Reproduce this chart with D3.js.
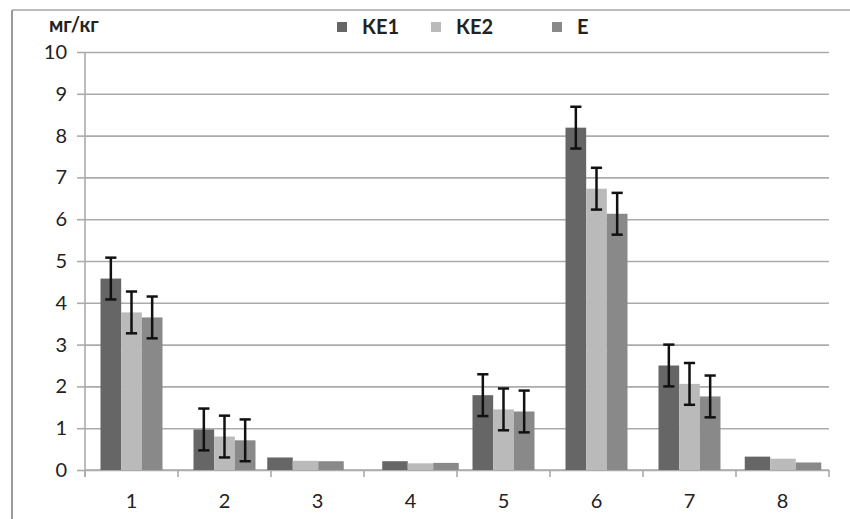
<!DOCTYPE html>
<html>
<head>
<meta charset="utf-8">
<script src="https://cdn.jsdelivr.net/npm/d3@7"></script>
<style>
  body { margin: 0; background: #fff; }
  text { font-family: Lato, "Open Sans", sans-serif; fill: #222; }
</style>
</head>
<body>
<div id="chart"></div>
<script>
var categories = ["1", "2", "3", "4", "5", "6", "7", "8"];
var seriesNames = ["КЕ1", "КЕ2", "Е"];
var ke1 = [4.58, 0.97, 0.30, 0.21, 1.79, 8.19, 2.50, 0.32];
var ke2 = [3.77, 0.80, 0.22, 0.16, 1.45, 6.73, 2.06, 0.27];
var e = [3.65, 0.71, 0.21, 0.17, 1.40, 6.13, 1.76, 0.18];
// error half-widths, null where no error bar is drawn
var errKe1 = [0.5, 0.5, null, null, 0.5, 0.5, 0.5, null];
var errKe2 = [0.5, 0.5, null, null, 0.5, 0.5, 0.5, null];
var errE = [0.5, 0.5, null, null, 0.5, 0.5, 0.5, null];
var yTicks = [0, 1, 2, 3, 4, 5, 6, 7, 8, 9, 10];
var unitLabel = "мг/кг";

var colors = ["#666666", "#bababa", "#898989"];
var values = [ke1, ke2, e];
var errors = [errKe1, errKe2, errE];

var width = 850, height = 519;
var margin = {top: 52, right: 21, bottom: 49, left: 85};

var svg = d3.select("#chart").append("svg")
  .attr("width", width)
  .attr("height", height);

// outer frame
svg.append("line").attr("x1", 12).attr("x2", width).attr("y1", 10).attr("y2", 10)
  .attr("stroke", "#bdbdbd").attr("stroke-width", 2);
svg.append("line").attr("x1", 12).attr("x2", 12).attr("y1", 10).attr("y2", height)
  .attr("stroke", "#9a9a9a").attr("stroke-width", 2);

var x = d3.scaleBand()
  .domain(categories)
  .range([margin.left, width - margin.right])
  .paddingInner(0).paddingOuter(0);

var xSub = d3.scaleBand()
  .domain(d3.range(seriesNames.length))
  .range([0, x.bandwidth()])
  .paddingInner(0).paddingOuter(0.75);

// groups without error bars are drawn with wider bars in the original, some off-centre
var wideShift = {"3": -12, "4": 10, "8": 0.5};
var wideBar = 25.5;

var y = d3.scaleLinear()
  .domain([0, 10])
  .range([height - margin.bottom, margin.top]);

// gridlines + y axis
var yAxis = d3.axisLeft(y)
  .tickValues(yTicks)
  .tickSize(-(width - margin.right - margin.left))
  .tickPadding(18);

var gy = svg.append("g")
  .attr("transform", "translate(" + margin.left + ",0)")
  .call(yAxis);
gy.select(".domain").remove();
gy.selectAll(".tick line").attr("stroke", "#ababab").attr("stroke-width", 1.6);
gy.selectAll(".tick").append("line")
  .attr("x1", -8).attr("x2", 0)
  .attr("stroke", "#ababab").attr("stroke-width", 1.6);
gy.selectAll(".tick text")
  .attr("font-size", 20)
  .style("font-family", "Lato, sans-serif")
  .attr("fill", "#222");

// y axis line
svg.append("line")
  .attr("x1", margin.left).attr("x2", margin.left)
  .attr("y1", y(10)).attr("y2", y(0) + 7)
  .attr("stroke", "#ababab").attr("stroke-width", 1.6);

// x axis
var xTickPos = categories.map(function(c) { return x(c); }).concat([x.range()[1]]);
svg.append("line")
  .attr("x1", margin.left).attr("x2", x.range()[1])
  .attr("y1", y(0)).attr("y2", y(0))
  .attr("stroke", "#ababab").attr("stroke-width", 1.6);
svg.selectAll(".xtick").data(xTickPos).enter().append("line")
  .attr("class", "xtick")
  .attr("x1", function(d) { return d; }).attr("x2", function(d) { return d; })
  .attr("y1", y(0)).attr("y2", y(0) + 7)
  .attr("stroke", "#ababab").attr("stroke-width", 1.6);
svg.selectAll(".xlabel").data(categories).enter().append("text")
  .attr("class", "xlabel")
  .attr("x", function(d) { return x(d) + x.bandwidth() / 2; })
  .attr("y", y(0) + 38)
  .attr("text-anchor", "middle")
  .attr("font-size", 20)
  .text(function(d) { return d; });

function barX(c, s) {
  if (wideShift[c] !== undefined) {
    var centre = x(c) + x.bandwidth() / 2 + wideShift[c];
    return centre - wideBar * seriesNames.length / 2 + s * wideBar;
  }
  return x(c) + xSub(s);
}
function barW(c) {
  return wideShift[c] !== undefined ? wideBar : xSub.bandwidth();
}

// bars
seriesNames.forEach(function(name, s) {
  svg.append("g").selectAll("rect")
    .data(categories)
    .enter().append("rect")
    .attr("x", function(c) { return barX(c, s); })
    .attr("y", function(c, i) { return y(values[s][i]); })
    .attr("width", function(c) { return barW(c); })
    .attr("height", function(c, i) { return y(0) - y(values[s][i]); })
    .attr("fill", colors[s]);
});

// error bars
seriesNames.forEach(function(name, s) {
  var g = svg.append("g").attr("stroke", "#111").attr("stroke-width", 2.5);
  categories.forEach(function(c, i) {
    var err = errors[s][i];
    if (err === null) return;
    var cx = barX(c, s) + barW(c) / 2;
    var top = y(values[s][i] + err), bot = y(values[s][i] - err);
    g.append("line").attr("x1", cx).attr("x2", cx).attr("y1", top).attr("y2", bot);
    g.append("line").attr("x1", cx - 5.6).attr("x2", cx + 5.6).attr("y1", top).attr("y2", top);
    g.append("line").attr("x1", cx - 5.6).attr("x2", cx + 5.6).attr("y1", bot).attr("y2", bot);
  });
});

// unit label
svg.append("text")
  .attr("x", 49).attr("y", 32)
  .attr("font-size", 20)
  .attr("font-weight", "bold")
  .attr("fill", "#333")
  .text(unitLabel);

// legend
var legendX = [337, 431, 552];
var legend = svg.append("g");
seriesNames.forEach(function(name, s) {
  legend.append("rect")
    .attr("x", legendX[s]).attr("y", 22)
    .attr("width", 10).attr("height", 10)
    .attr("fill", colors[s]);
  legend.append("text")
    .attr("x", legendX[s] + 25).attr("y", 34)
    .attr("font-size", 20)
    .attr("font-weight", "bold")
    .attr("fill", "#333")
    .text(name);
});
</script>
</body>
</html>
